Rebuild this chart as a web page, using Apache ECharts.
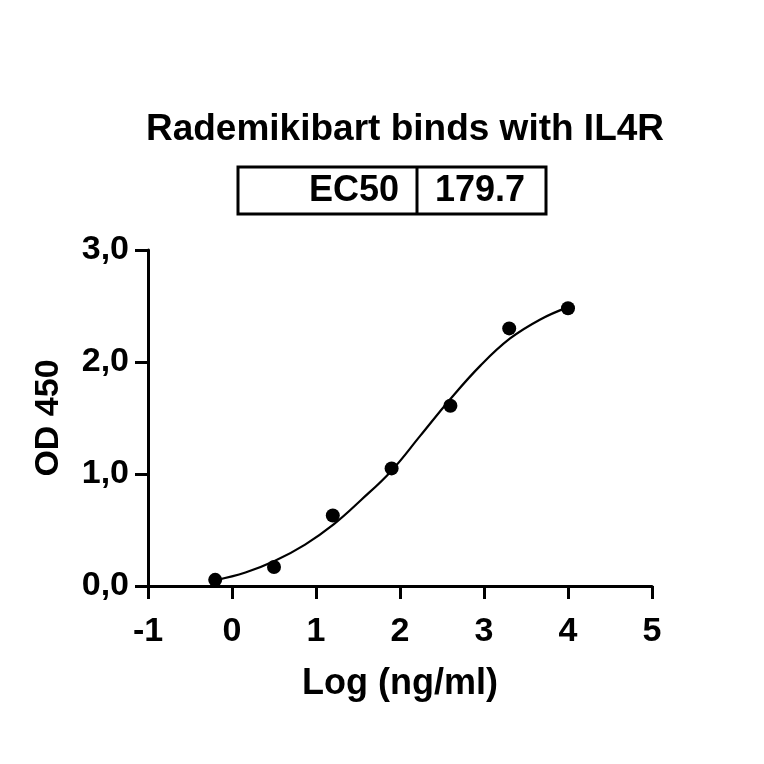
<!DOCTYPE html>
<html>
<head>
<meta charset="utf-8">
<script src="https://cdn.jsdelivr.net/npm/echarts@6/dist/echarts.min.js"></script>
<style>
html,body{margin:0;padding:0;background:#fff;}
#chart{width:764px;height:764px;}
</style>
</head>
<body>
<div id="chart"></div>
<script>
// Measured points: x = Log (ng/ml), y = OD 450
const pointX = [-0.2, 0.5, 1.2, 1.9, 2.6, 3.3, 4.0];
const pointY = [0.055, 0.17, 0.63, 1.05, 1.61, 2.30, 2.48];
// Fitted curve
const curveX = [-0.2, 0.16, 0.5, 0.87, 1.21, 1.54, 1.9, 2.24, 2.6, 2.96, 3.31, 3.67, 4.0];
const curveY = [0.05, 0.12, 0.22, 0.37, 0.55, 0.77, 1.03, 1.34, 1.67, 1.97, 2.21, 2.38, 2.49];
const xTicks = [-1, 0, 1, 2, 3, 4, 5];
const yTicks = [0, 1, 2, 3];
const titleText = 'Rademikibart binds with IL4R';
const ec50Label = 'EC50';
const ec50Value = '179.7';
const xName = 'Log (ng/ml)';
const yName = 'OD 450';

const FONT = '"Liberation Sans", Arial, sans-serif';
const chart = echarts.init(document.getElementById('chart'));

const points = pointX.map((x, i) => [x, pointY[i]]);
const curve = curveX.map((x, i) => [x, curveY[i]]);

chart.setOption({
  backgroundColor: '#fff',
  animation: false,
  grid: { left: 148, top: 250, width: 504, height: 336, containLabel: false },
  xAxis: {
    type: 'value',
    min: xTicks[0], max: xTicks[xTicks.length - 1], interval: 1,
    name: xName, nameLocation: 'middle', nameGap: 80,
    nameTextStyle: { color: '#000', fontFamily: FONT, fontWeight: 'bold', fontSize: 36 },
    axisLine: { show: true, onZero: false, lineStyle: { color: '#000', width: 3 } },
    axisTick: { show: true, inside: false, length: 13, lineStyle: { color: '#000', width: 3 } },
    axisLabel: { color: '#000', fontFamily: FONT, fontWeight: 'bold', fontSize: 34, margin: 29 },
    splitLine: { show: false }
  },
  yAxis: {
    type: 'value',
    min: yTicks[0], max: yTicks[yTicks.length - 1], interval: 1,
    name: yName, nameLocation: 'middle', nameGap: 82,
    nameTextStyle: { color: '#000', fontFamily: FONT, fontWeight: 'bold', fontSize: 34 },
    axisLine: { show: true, onZero: false, lineStyle: { color: '#000', width: 3 } },
    axisTick: { show: true, inside: false, length: 13, lineStyle: { color: '#000', width: 3 } },
    axisLabel: {
      color: '#000', fontFamily: FONT, fontWeight: 'bold', fontSize: 34, margin: 19,
      formatter: v => v.toFixed(1).replace('.', ',')
    },
    splitLine: { show: false }
  },
  graphic: [
    { type: 'text', x: 405, y: 130,
      style: { text: titleText, fill: '#000', font: 'bold 37px ' + FONT, textAlign: 'center', textVerticalAlign: 'middle' } },
    { type: 'rect', shape: { x: 238, y: 167, width: 308, height: 47 },
      style: { fill: 'none', stroke: '#000', lineWidth: 3 } },
    { type: 'line', shape: { x1: 417, y1: 167, x2: 417, y2: 214 },
      style: { stroke: '#000', lineWidth: 3 } },
    { type: 'text', x: 399, y: 191,
      style: { text: ec50Label, fill: '#000', font: 'bold 36px ' + FONT, textAlign: 'right', textVerticalAlign: 'middle' } },
    { type: 'text', x: 435, y: 191,
      style: { text: ec50Value, fill: '#000', font: 'bold 36px ' + FONT, textAlign: 'left', textVerticalAlign: 'middle' } }
  ],
  series: [
    {
      type: 'line', data: curve, smooth: 0.4, showSymbol: false, symbol: 'none',
      lineStyle: { color: '#000', width: 2.2 }, z: 2
    },
    {
      type: 'scatter', data: points, symbol: 'circle', symbolSize: 14,
      itemStyle: { color: '#000', opacity: 1 }, z: 3
    }
  ]
});
</script>
</body>
</html>
